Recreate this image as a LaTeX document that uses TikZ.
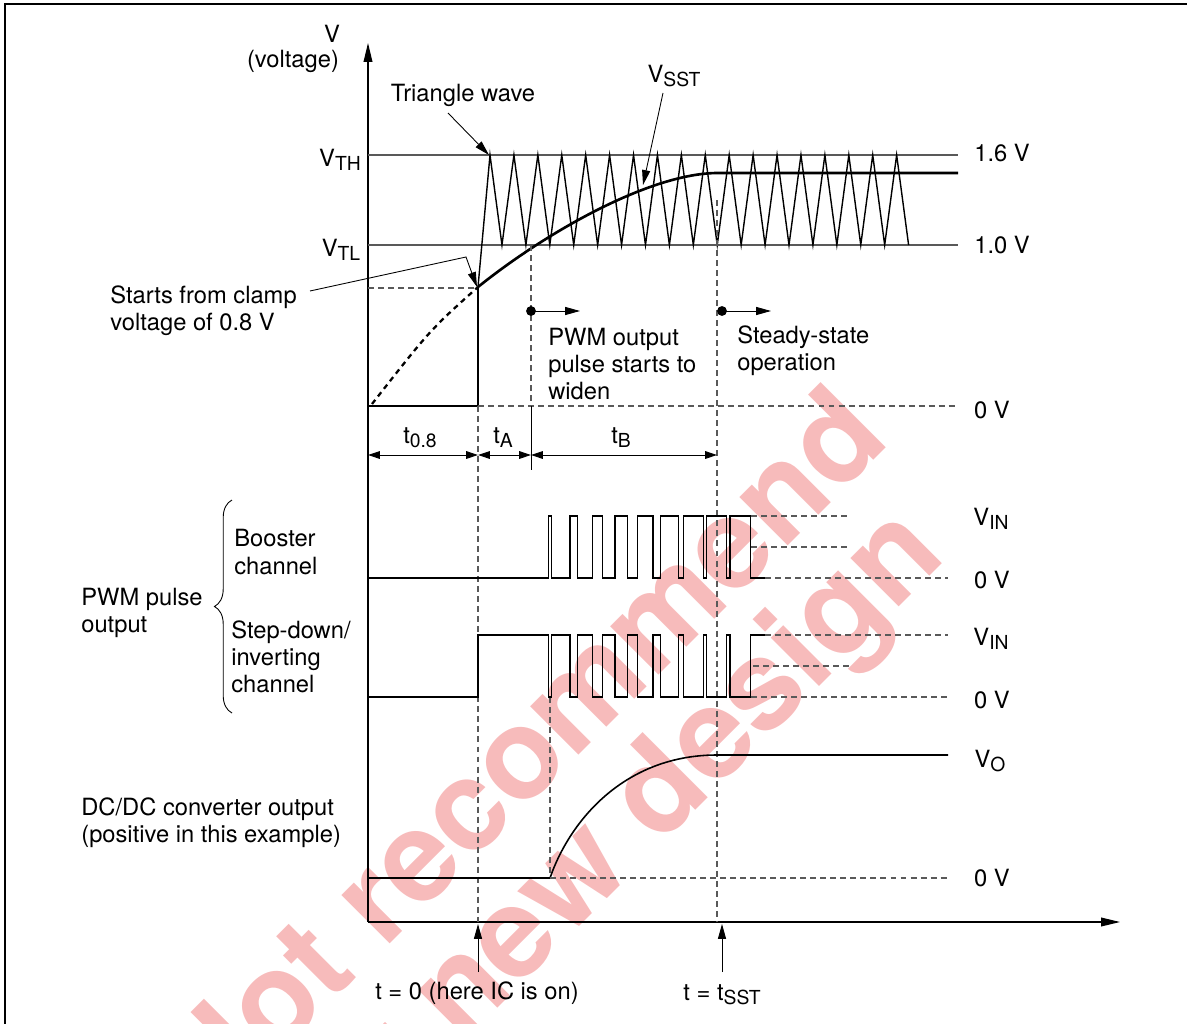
\documentclass[tikz,border=0pt]{standalone}
\usepackage{fontspec}
\setmainfont{TeX Gyre Heros}
\usetikzlibrary{arrows.meta,decorations.pathreplacing}
\definecolor{wmark}{RGB}{247,187,187}
\definecolor{thr}{gray}{0.35}
\newcommand{\lowtext}[1]{\raisebox{-0.32ex}{\fontsize{11}{12}\selectfont #1}}
\tikzset{
	lbl/.style={font=\fontsize{13.5}{15.4}\selectfont,inner sep=0pt},
	lft/.style={lbl,align=left,anchor=west},
	dsh/.style={thr,line width=0.6pt,dash pattern=on 3.4pt off 2.3pt},
	ptr/.style={line width=0.5pt,-{Triangle[length=8.5pt,width=4.6pt]}},
	axis/.style={line width=0.7pt,-{Triangle[length=10.8pt,width=5pt]}},
	dim/.style={line width=0.5pt,{Triangle[length=6.8pt,width=4.4pt]}-{Triangle[length=6.8pt,width=4.4pt]}},
	wave/.style={line width=0.9pt,line join=miter},
	wm/.style={text=wmark,font=\fontsize{72}{80}\selectfont\bfseries,inner sep=0pt,rotate=45,anchor=base east}
}

\begin{document}
\begin{tikzpicture}[x=0.02cm,y=-0.02cm]
	\useasboundingbox (0,0) rectangle (1187,1024);
	\node[wm] (wm1) at (892,442) {Not recommend};
	\node[wm] (wm2) at (948,558) {for new design};

	\draw[line width=1.4pt] (5,1024) -- (5,4) -- (1187,4);

	\draw[axis] (368,922) -- (368,43);
	\draw[axis] (368,922) -- (1120,922);
	\node[lbl] (vlab) at (332,34) {V};
	\node[lbl] (vtxt) at (293,61) {(voltage)};

	\draw[thr,line width=0.6pt] (368,155) -- (958,155);
	\draw[thr,line width=0.6pt] (368,245) -- (958,245);
	\node[lbl] (vth) at (340,160) {V\lowtext{TH}};
	\node[lbl] (vtl) at (341,250) {V\lowtext{TL}};
	\node[lbl] (u16) at (1002,153) {1.6 V};
	\node[lbl] (u10) at (1002,245) {1.0 V};

	\draw[line width=0.8pt] (478,287) -- (490,155) foreach \k in {0,...,16} { -- ({501.96+23.92*\k},245) -- ({513.92+23.92*\k},155) } -- (908.6,245);
	\draw[line width=1.5pt] (478,287) .. controls (545,233) and (650,173) .. (718,173) -- (958,173);
	\draw[line width=1.3pt,dash pattern=on 3pt off 2.5pt] (372,404) .. controls (430,330) .. (478,287);
	\draw[line width=1.5pt] (368,406) -- (478,406) -- (478,287);
	\draw[dsh] (368,288) -- (478,288);
	\draw[dsh] (478,406) -- (958,406);
	\node[lbl] (u0a) at (992,410) {0 V};

	\node[lbl] (tri) at (463,95) {Triangle wave};
	\coordinate (trifoot) at (448,113);
	\coordinate (tritip) at (489,155);
	\draw[ptr] (trifoot) -- (tritip);
	\node[lbl] (vsst) at (674,76) {V\lowtext{SST}};
	\coordinate (vsstfoot) at (663,93);
	\coordinate (vssttip) at (643,185);
	\draw[ptr] (vsstfoot) -- (vssttip);
	\node[lft] (clamp) at (110,311) {Starts from clamp\\voltage of 0.8 V};
	\coordinate (clampfoot) at (310,291);
	\coordinate (clampbend) at (466,257);
	\coordinate (clamptip) at (477,287);
	\draw[ptr] (clampfoot) -- (clampbend) -- (clamptip);

	\draw[dsh] (478,406) -- (478,922);
	\draw[dsh] (531,245) -- (531,406);
	\draw[line width=0.5pt] (531,406) -- (531,470);
	\draw[dsh] (717,200) -- (717,922);
	\draw[dsh] (550,697) -- (550,878);

	\fill (531,311) circle (2.8pt) coordinate (pwmdot);
	\fill (722,311) circle (2.8pt) coordinate (ssdot);
	\coordinate (pwmend) at (580,311);
	\coordinate (ssend) at (771,311);
	\draw[ptr] (pwmdot) -- (pwmend);
	\draw[ptr] (ssdot) -- (ssend);
	\node[lft] (widen) at (548,364) {PWM output\\pulse starts to\\widen};
	\node[lft] (steady) at (737,351) {Steady-state\\operation};

	\draw[dim] (368,455) -- (478,455);
	\draw[dim] (478,455) -- (531,455);
	\draw[dim] (531,455) -- (717,455);
	\node[lbl] (t08) at (420,438) {t\lowtext{0.8}};
	\node[lbl] (ta) at (503,438) {t\lowtext{A}};
	\node[lbl] (tb) at (621,438) {t\lowtext{B}};

	\draw[wave] (368,578) foreach \r/\w in {548.3/3.4,570/7.3,592.5/10,615/12.7,637.7/15.3,660.7/17.6,683.3/20,706.7/20,730/20.7} { -- (\r,578) -- (\r,516) -- ({\r+\w},516) -- ({\r+\w},578) } -- (765,578);
	\draw[dsh] (751,516) -- (850,516);
	\draw[dsh] (751,547) -- (850,547);
	\draw[dsh] (765,578) -- (948,578);
	\draw[wave] (368,697) -- (478,697) -- (478,635) foreach \r/\w in {548.3/3.4,570/7.3,592.5/10,615/12.7,637.7/15.3,660.7/17.6,683.3/20,706.7/20,730/20.7} { -- (\r,635) -- (\r,697) -- ({\r+\w},697) -- ({\r+\w},635) } -- (765,635);
	\draw[dsh] (765,635) -- (948,635);
	\draw[dsh] (753,666) -- (850,666);
	\draw[dsh] (751,697) -- (948,697);
	\node[lbl] (vin1) at (991,519) {V\lowtext{IN}};
	\node[lbl] (u0b) at (992,580) {0 V};
	\node[lbl] (vin2) at (991,639) {V\lowtext{IN}};
	\node[lbl] (u0c) at (992,700) {0 V};

	\draw[line width=0.5pt,decorate,decoration={brace,amplitude=10pt}] (232,713) -- (232,500);
	\node[lft] (pwm) at (81,613) {PWM pulse\\output};
	\node[lft] (boost) at (234,552) {Booster\\channel};
	\node[lft] (buck) at (231,657) {Step-down/\\inverting\\channel};

	\draw[wave] (368,878) -- (550,878) .. controls (570,820) and (625,755) .. (717,755) -- (948,755);
	\draw[dsh] (550,878) -- (948,878);
	\node[lbl] (vo) at (990,761) {V\lowtext{O}};
	\node[lbl] (u0d) at (992,878) {0 V};
	\node[lft] (dcdc) at (81,823) {DC/DC converter output\\(positive in this example)};

	\coordinate (ton) at (478,924);
	\coordinate (tonfoot) at (478,972);
	\coordinate (tsst) at (722,924);
	\coordinate (tsstfoot) at (722,972);
	\draw[ptr] (tonfoot) -- (ton);
	\draw[ptr] (tsstfoot) -- (tsst);
	\node[lbl] (t0) at (477,993) {t = 0 (here IC is on)};
	\node[lbl] (tss) at (722,995) {t = t\lowtext{SST}};
\end{tikzpicture}
\end{document}
